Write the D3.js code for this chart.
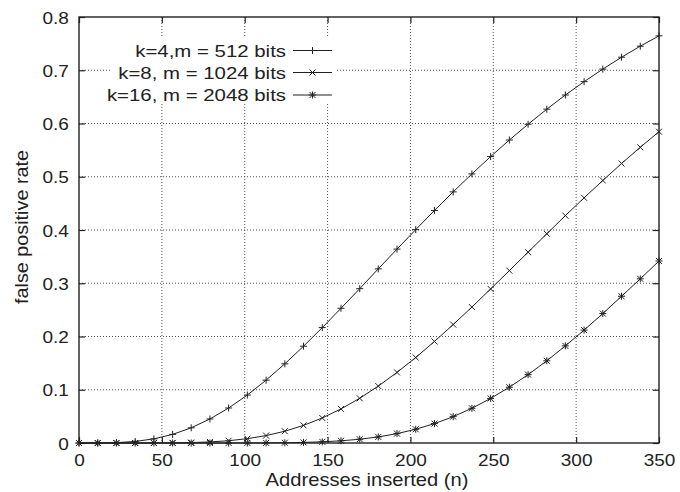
<!DOCTYPE html>
<html>
<head>
<meta charset="utf-8">
<script src="https://cdn.jsdelivr.net/npm/d3@7"></script>
<style>
body { margin: 0; background: #fff; }
text { font-family: "Liberation Sans", Arial, Helvetica, sans-serif; fill: #222; }
</style>
</head>
<body>
<svg width="680" height="492"></svg>
<script>
// addresses inserted (sample points along x)
var nValues = [0, 11.3, 22.6, 33.9, 45.2, 56.5, 67.7, 79.0, 90.3, 101.6, 112.9, 124.2,
  135.5, 146.8, 158.1, 169.4, 180.6, 191.9, 203.2, 214.5, 225.8, 237.1, 248.4, 259.7,
  271.0, 282.3, 293.5, 304.8, 316.1, 327.4, 338.7, 350];

// false positive rates
var fpK4 = [0, 0.0001, 0.0007, 0.0029, 0.0078, 0.0162, 0.0285, 0.0451, 0.0657, 0.0901, 0.1180, 0.1487,
  0.1818, 0.2167, 0.2530, 0.2898, 0.3270, 0.3641, 0.4007, 0.4367, 0.4716, 0.5053, 0.5379, 0.5690,
  0.5986, 0.6269, 0.6535, 0.6786, 0.7022, 0.7245, 0.7452, 0.7646];
var fpK8 = [0, 0, 0, 0, 0.0001, 0.0003, 0.0008, 0.0020, 0.0043, 0.0081, 0.0139, 0.0221,
  0.0331, 0.0470, 0.0640, 0.0840, 0.1069, 0.1326, 0.1605, 0.1907, 0.2224, 0.2553, 0.2893, 0.3237,
  0.3583, 0.3929, 0.4270, 0.4604, 0.4931, 0.5249, 0.5553, 0.5846];
var fpK16 = [0, 0, 0, 0, 0, 0, 0, 0, 0, 0.0001, 0.0002, 0.0005,
  0.0011, 0.0022, 0.0041, 0.0071, 0.0114, 0.0176, 0.0258, 0.0364, 0.0495, 0.0652, 0.0837, 0.1048,
  0.1284, 0.1544, 0.1824, 0.2120, 0.2431, 0.2756, 0.3083, 0.3418];

var seriesLabels = ['k=4,m = 512 bits', 'k=8, m = 1024 bits', 'k=16, m = 2048 bits'];
var xTicks = [0, 50, 100, 150, 200, 250, 300, 350];
var yTicks = [0, 0.1, 0.2, 0.3, 0.4, 0.5, 0.6, 0.7, 0.8];

var series = [fpK4, fpK8, fpK16];
var markers = [
  'M-3.5,0H3.5M0,-3.5V3.5',
  'M-3,-3L3,3M-3,3L3,-3',
  'M-3.5,0H3.5M0,-3.5V3.5M-3,-3L3,3M-3,3L3,-3'
];

var plotL = 79, plotR = 659, plotT = 17, plotB = 443;
var ink = '#222';

var svg = d3.select('svg');
var x = d3.scaleLinear().domain([0, 350]).range([plotL, plotR]);
var y = d3.scaleLinear().domain([0, 0.8]).range([plotB, plotT]);

// grid
var grid = svg.append('g')
  .attr('stroke', '#555')
  .attr('stroke-width', 1)
  .attr('stroke-dasharray', '1,2');
grid.selectAll('.gx')
  .data(xTicks.slice(1, -1))
  .enter()
  .append('line')
  .attr('x1', function(d) { return x(d); })
  .attr('x2', function(d) { return x(d); })
  .attr('y1', plotT)
  .attr('y2', plotB);
grid.selectAll('.gy')
  .data(yTicks.slice(1, -1))
  .enter()
  .append('line')
  .attr('x1', plotL)
  .attr('x2', plotR)
  .attr('y1', function(d) { return y(d); })
  .attr('y2', function(d) { return y(d); });

// axes with inward ticks
var fmtY = function(d) { return d === 0 ? '0' : d3.format('.1f')(d); };
var xAxis = svg.append('g')
  .attr('transform', 'translate(0,' + plotB + ')')
  .call(d3.axisBottom(x).tickValues(xTicks).tickSize(-6).tickPadding(11).tickSizeOuter(0));
svg.append('g')
  .attr('transform', 'translate(0,' + plotT + ')')
  .call(d3.axisTop(x).tickValues(xTicks).tickSize(-6).tickFormat('').tickSizeOuter(0));
var yAxis = svg.append('g')
  .attr('transform', 'translate(' + plotL + ',0)')
  .call(d3.axisLeft(y).tickValues(yTicks).tickSize(-6).tickPadding(9).tickFormat(fmtY).tickSizeOuter(0));
svg.append('g')
  .attr('transform', 'translate(' + plotR + ',0)')
  .call(d3.axisRight(y).tickValues(yTicks).tickSize(-6).tickFormat('').tickSizeOuter(0));

svg.selectAll('.domain').remove();
svg.selectAll('.tick line').attr('stroke', ink).attr('stroke-width', 1.2);
svg.selectAll('.tick text')
  .attr('font-size', 17)
  .attr('fill', ink)
  .style('font-family', '"Liberation Sans", Arial, sans-serif');
xAxis.selectAll('.tick text').attr('transform', 'scale(1.12,1)');
yAxis.selectAll('.tick text').attr('transform', 'scale(1.12,1)').attr('dy', '0.36em');

// frame
svg.append('rect')
  .attr('x', plotL)
  .attr('y', plotT)
  .attr('width', plotR - plotL)
  .attr('height', plotB - plotT)
  .attr('fill', 'none')
  .attr('stroke', ink)
  .attr('stroke-width', 1.4);

// legend background hides the grid behind the key
svg.append('rect')
  .attr('x', 112)
  .attr('y', 36)
  .attr('width', 224)
  .attr('height', 67)
  .attr('fill', '#fff');

// curves
var line = d3.line()
  .x(function(d, i) { return x(nValues[i]); })
  .y(function(d) { return y(d); });

series.forEach(function(vals, s) {
  svg.append('path')
    .datum(vals)
    .attr('d', line)
    .attr('fill', 'none')
    .attr('stroke', ink)
    .attr('stroke-width', 1);
  svg.append('g')
    .selectAll('path')
    .data(vals)
    .enter()
    .append('path')
    .attr('d', markers[s])
    .attr('transform', function(d, i) {
      return 'translate(' + x(nValues[i]) + ',' + y(d) + ')';
    })
    .attr('fill', 'none')
    .attr('stroke', ink)
    .attr('stroke-width', 1);
});

// key
var keyY = [50.5, 72.5, 95];
var key = svg.append('g');
seriesLabels.forEach(function(label, s) {
  key.append('text')
    .attr('transform', 'translate(286,' + (keyY[s] + 6) + ') scale(1.2,1)')
    .attr('text-anchor', 'end')
    .attr('font-size', 17)
    .text(label);
  key.append('line')
    .attr('x1', 293).attr('x2', 332)
    .attr('y1', keyY[s]).attr('y2', keyY[s])
    .attr('stroke', ink)
    .attr('stroke-width', 1);
  key.append('path')
    .attr('d', markers[s])
    .attr('transform', 'translate(312.5,' + keyY[s] + ')')
    .attr('fill', 'none')
    .attr('stroke', ink)
    .attr('stroke-width', 1);
});

// axis titles
svg.append('text')
  .attr('transform', 'translate(' + ((plotL + plotR) / 2 - 2) + ',486) scale(1.12,1)')
  .attr('text-anchor', 'middle')
  .attr('font-size', 18)
  .text('Addresses inserted (n)');

svg.append('text')
  .attr('transform', 'translate(28,227) rotate(-90) scale(1.1,1)')
  .attr('text-anchor', 'middle')
  .attr('font-size', 18)
  .text('false positive rate');
</script>
</body>
</html>
